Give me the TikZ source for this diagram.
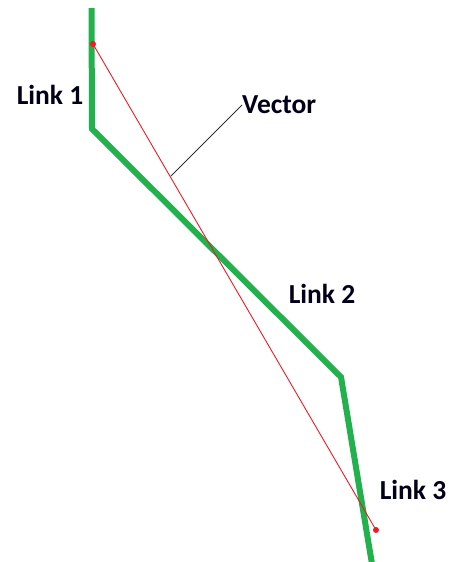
\documentclass[tikz,border=0pt]{standalone}
\usepackage{fontspec}
\setmainfont{Carlito}
\definecolor{paintgreen}{RGB}{34,177,76}
\definecolor{paintred}{RGB}{237,28,36}
\tikzset{
  lbl/.style={font=\bfseries\fontsize{27.5}{32}\selectfont, inner sep=0pt, text=black!90!blue},
  linkline/.style={draw=paintgreen, line width=6pt, line join=miter},
  vec/.style={draw=paintred, line width=0.9pt},
  leader/.style={draw=black!80, line width=1pt},
  endpt/.style={circle, fill=paintred, inner sep=0pt, minimum size=6pt}
}
\begin{document}
\begin{tikzpicture}[x=1pt,y=-1pt]
\useasboundingbox (0,0) rectangle (450,562);
\begin{scope}
\clip (0,0) rectangle (450,562);
\coordinate (g0) at (91.5,8);
\coordinate (g1) at (92,129);
\coordinate (g2) at (341,377);
\coordinate (g3) at (373,570);
\draw[linkline] (g0) -- (g1) -- (g2) -- (g3);
\end{scope}
\node[endpt] (p1) at (93,44) {};
\node[endpt] (p2) at (376,530) {};
\draw[vec] (p1.center) -- (p2.center);
\coordinate (lf) at (171,176);
\node[lbl, anchor=west] (vt) at (242,105) {Vector};
\draw[leader] (lf) -- (vt.west);
\node[lbl] (l1) at (50,95) {Link 1};
\node[lbl] (l2) at (322,294) {Link 2};
\node[lbl] (l3) at (413,490) {Link 3};
\end{tikzpicture}
\end{document}
